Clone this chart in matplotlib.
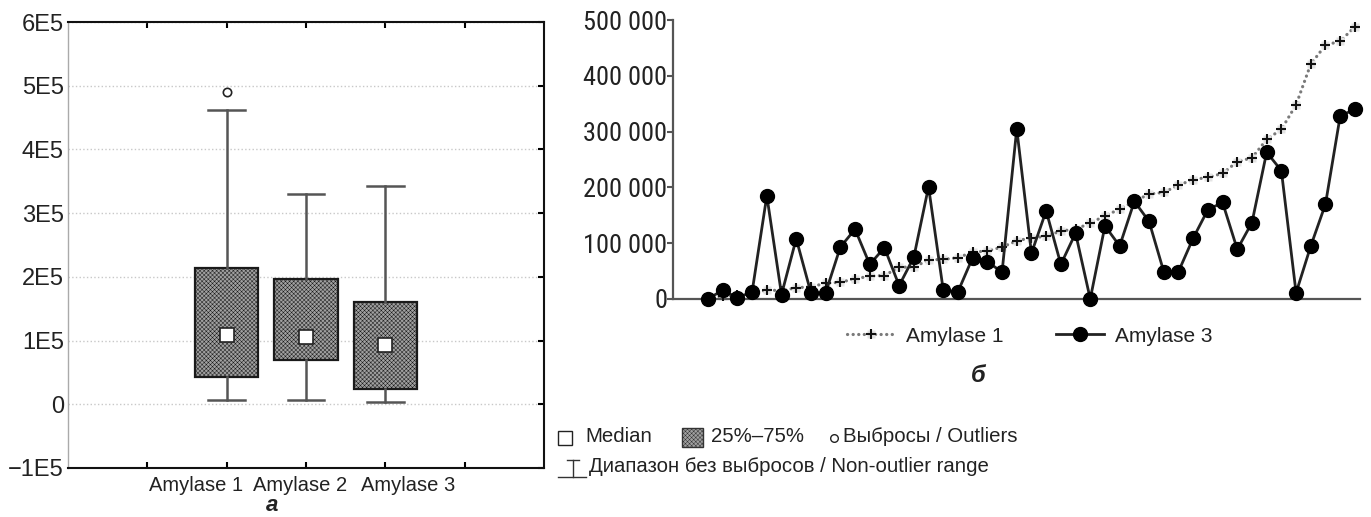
import numpy as np
import matplotlib
matplotlib.use('Agg')
import matplotlib.pyplot as plt
from matplotlib import font_manager
from matplotlib.patches import Rectangle
from matplotlib.lines import Line2D
from matplotlib.ticker import FuncFormatter

plt.rcParams['font.family'] = ['Liberation Sans', 'DejaVu Sans']
plt.rcParams['hatch.linewidth'] = 0.35

# panel a: box plot summary values
box_labels = ['Amylase 1', 'Amylase 2', 'Amylase 3']
q1 = [43000, 70000, 24000]
q3 = [214500, 196000, 160000]
medians = [109000, 106000, 93000]
whis_lo = [6000, 6000, 3000]
whis_hi = [462000, 330000, 342000]
outliers = [[490000], [], []]

left_ticks = [-100000, 0, 100000, 200000, 300000, 400000, 500000, 600000]
left_ticklabels = ['\u22121E5', '0', '1E5', '2E5', '3E5', '4E5', '5E5', '6E5']

# panel b: paired samples (Amylase 1 sorted ascending)
amylase1 = [2000, 5000, 7000, 10000, 16000, 15000, 20000, 22000, 28000, 30000,
            36000, 41000, 42000, 57000, 57000, 70000, 71000, 74000, 84000, 86000,
            93000, 104000, 110000, 112000, 122000, 125000, 136000, 149000, 161000, 175000,
            188000, 191000, 204000, 214000, 218000, 225000, 246000, 253000, 286000, 304000,
            348000, 421000, 455000, 462000, 488000]
amylase3 = [0, 16000, 2000, 13000, 185000, 8000, 108000, 11000, 11000, 93000,
            125000, 62000, 92000, 24000, 75000, 201000, 16000, 13000, 74000, 67000,
            48000, 305000, 82000, 158000, 62000, 118000, 0, 131000, 95000, 175000,
            139000, 49000, 49000, 109000, 160000, 173000, 89000, 137000, 263000, 230000,
            11000, 95000, 170000, 328000, 340000]


def pick_font(names):
    for n in names:
        try:
            font_manager.findfont(n, fallback_to_default=False)
            return n
        except ValueError:
            pass
    return 'Liberation Sans'


narrow = pick_font(['Liberation Sans Narrow', 'DejaVu Sans Condensed', 'Roboto Condensed'])
narrow_size = 19 if narrow != 'Liberation Sans' else 16.5

fig = plt.figure(figsize=(13.71, 5.17), dpi=100)

# ---- panel a ----
ax1 = fig.add_axes([0.0496, 0.0948, 0.3472, 0.8626])
pos = [1, 2, 3]
stats = []
for i in range(3):
    stats.append(dict(med=medians[i], q1=q1[i], q3=q3[i],
                      whislo=whis_lo[i], whishi=whis_hi[i], fliers=outliers[i]))
bp = ax1.bxp(stats, positions=pos, widths=0.8, capwidths=0.46, patch_artist=True,
             boxprops=dict(facecolor='#a0a0a0', edgecolor='#1a1a1a', linewidth=1.6, hatch='xxxxxxxx'),
             whiskerprops=dict(color='#555555', linewidth=1.8),
             capprops=dict(color='#555555', linewidth=1.8),
             medianprops=dict(visible=False),
             flierprops=dict(marker='o', markerfacecolor='white', markeredgecolor='#222222',
                             markersize=6, markeredgewidth=1.2))
ax1.plot(pos, medians, 's', markersize=10, markerfacecolor='white',
         markeredgecolor='#222222', markeredgewidth=1.2, zorder=5)

ax1.set_xlim(-1, 5)
ax1.set_ylim(-100000, 600000)
ax1.set_yticks(left_ticks)
ax1.set_yticklabels(left_ticklabels, fontsize=17, color='#222222')
ax1.set_xticks([0, 1, 2, 3, 4])
ax1.set_xticklabels([])
# the category labels sit spread out under the boxes
for p, name, dx in zip(pos, box_labels, [-31, -6, 23]):
    ax1.annotate(name, xy=(p, 0), xycoords=('data', 'axes fraction'), xytext=(dx, -8),
                 textcoords='offset pixels', ha='center', va='top', fontsize=14.5, color='#222222')
ax1.tick_params(axis='y', left=False, right=True, direction='in', length=4, width=1.5, pad=3)
ax1.tick_params(axis='x', bottom=True, top=True, direction='in', length=4, width=1.5)
ax1.yaxis.grid(True, linestyle=':', color='#c8c8c8', linewidth=1)
for s in ['top', 'bottom', 'right']:
    ax1.spines[s].set_linewidth(1.5)
    ax1.spines[s].set_color('#111111')
ax1.spines['left'].set_color('#aaaaaa')
ax1.spines['left'].set_linewidth(1)
fig.text(272 / 1371, 1 - 516 / 517, '\u0430', fontsize=16, fontweight='bold', style='italic',
         ha='center', va='bottom', color='#222222')

# ---- panel b ----
ax2 = fig.add_axes([0.4909, 0.4217, 0.5011, 0.5396])
x = np.arange(len(amylase1))
l1a, = ax2.plot(x, amylase1, linestyle=(0, (0.05, 1.7)), dash_capstyle='round', color='#7a7a7a',
                linewidth=2.3, marker='s', markersize=6, markerfacecolor='#e4e4e4',
                markeredgecolor='none', clip_on=False, zorder=2)
l1b, = ax2.plot(x, amylase1, linestyle='none', marker='+', markersize=6.5, markeredgewidth=1.5,
                color='#111111', clip_on=False, zorder=3)
l3, = ax2.plot(x, amylase3, '-', color='#222222', linewidth=2, marker='o', markersize=10,
               markerfacecolor='black', markeredgecolor='black', clip_on=False, zorder=4)
ax2.set_xlim(-2.38, 44.35)
ax2.set_ylim(0, 500000)
ax2.set_yticks(np.arange(0, 500001, 100000))
ax2.yaxis.set_major_formatter(FuncFormatter(lambda v, p: f'{int(v):,}'.replace(',', ' ')))
for lab in ax2.get_yticklabels():
    lab.set_family([narrow, 'Liberation Sans'])
    lab.set_fontsize(narrow_size)
    lab.set_color('#222222')
ax2.set_xticks([])
ax2.tick_params(axis='y', direction='out', length=4, width=1.5, color='#555555', pad=0)
ax2.spines['top'].set_visible(False)
ax2.spines['right'].set_visible(False)
for s in ['left', 'bottom']:
    ax2.spines[s].set_color('#555555')
    ax2.spines[s].set_linewidth(1.6)
leg = ax2.legend([(l1a, l1b), l3], ['Amylase 1', 'Amylase 3'], loc='center',
                 bbox_to_anchor=(1030 / 1371, 1 - 336 / 517), bbox_transform=fig.transFigure, ncol=2,
                 frameon=False, fontsize=15, handlelength=2.3, columnspacing=2.5, handletextpad=0.55)
for t in leg.get_texts():
    t.set_color('#222222')
fig.text(978 / 1371, 1 - 375 / 517, '\u0431', fontsize=17, fontweight='bold', style='italic',
         ha='center', va='center', color='#222222')

# ---- key for panel a ----
key_fs = 14.7
fig.add_artist(Rectangle((558 / 1371, 1 - 445 / 517), 14 / 1371, 14 / 517, transform=fig.transFigure,
                         facecolor='white', edgecolor='#222222', linewidth=1))
fig.text(585 / 1371, 1 - 437 / 517, 'Median', fontsize=key_fs, va='center', color='#222222')
fig.add_artist(Rectangle((682 / 1371, 1 - 447 / 517), 21 / 1371, 19 / 517, transform=fig.transFigure,
                         facecolor='#a0a0a0', edgecolor='#333333', linewidth=1, hatch='xxxxxxxx'))
fig.text(711 / 1371, 1 - 437 / 517, '25%\u201375%', fontsize=key_fs, va='center', color='#222222')
fig.add_artist(Line2D([834 / 1371], [1 - 438 / 517], marker='o', markersize=5.5, markerfacecolor='white',
                      markeredgecolor='#222222', markeredgewidth=1, transform=fig.transFigure))
fig.text(843 / 1371, 1 - 437 / 517, 'Выбросы / Outliers', fontsize=key_fs, va='center', color='#222222')

fig.add_artist(Line2D([567 / 1371, 579 / 1371], [1 - 460 / 517, 1 - 460 / 517], color='#333333',
                      linewidth=1, transform=fig.transFigure))
fig.add_artist(Line2D([573 / 1371, 573 / 1371], [1 - 460 / 517, 1 - 477 / 517], color='#333333',
                      linewidth=1, transform=fig.transFigure))
fig.add_artist(Line2D([558 / 1371, 586 / 1371], [1 - 477 / 517, 1 - 477 / 517], color='#333333',
                      linewidth=1, transform=fig.transFigure))
fig.text(589 / 1371, 1 - 467 / 517, 'Диапазон без выбросов / Non-outlier range', fontsize=key_fs,
         va='center', color='#222222')

fig.savefig('out.png', dpi=100)
